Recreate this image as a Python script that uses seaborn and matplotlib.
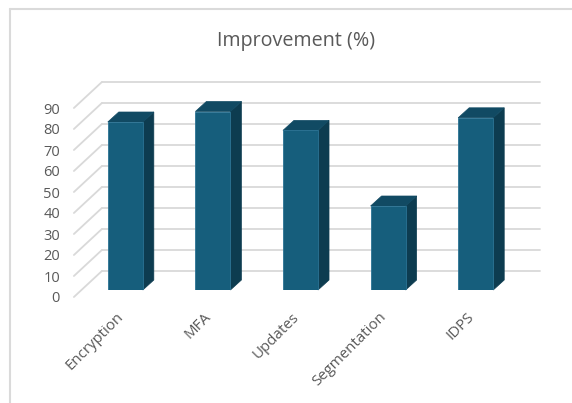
import numpy as np
import seaborn as sns
import matplotlib.pyplot as plt
from matplotlib.patches import Polygon
from matplotlib.lines import Line2D
from matplotlib.transforms import ScaledTranslation

# data
categories = ["Encryption", "MFA", "Updates", "Segmentation", "IDPS"]
improvement = [80, 85, 76, 40, 82]
yticks = [0, 10, 20, 30, 40, 50, 60, 70, 80, 90]

front_col = "#165E7C"
side_col = "#0D3C50"
top_col = "#114A63"
grid_col = "#D9D9D9"
text_col = "#595959"

sns.set_style("white")
plt.rcParams["font.family"] = ["Open Sans", "DejaVu Sans"]

W, H = 572, 403
fig = plt.figure(figsize=(W / 100, H / 100), dpi=100)
fig.patch.set_facecolor("white")

# axes = front plane of the bars (pixels measured on the reference)
left_px, right_px, zero_px, span_px = 81.5, 519.5, 290, 210
ax = fig.add_axes([left_px / W, (H - zero_px) / H,
                   (right_px - left_px) / W, span_px / H])
ax.set_xlim(-0.5, 4.5)
ax.set_ylim(0, 100)

px_x = (right_px - left_px) / 5  # px per category unit
px_y = span_px / 100             # px per value unit

def off(dx_px, dy_px):
    return dx_px / px_x, dy_px / px_y

# 3d "walls": gridlines on back wall and diagonals on the left floor/wall
bdx, bdy = off(20.4, 19)
fdx, fdy = off(-7.6, -7)
for v in yticks:
    ax.plot([-0.5 + bdx, 4.5 + bdx], [v + bdy, v + bdy], color=grid_col,
            lw=1.3, zorder=0, clip_on=False)
    ax.plot([-0.5 + fdx, -0.5 + bdx], [v + fdy, v + bdy], color=grid_col,
            lw=1.3, zorder=0, clip_on=False)

sns.barplot(x=categories, y=improvement, color=front_col, saturation=1,
            width=0.4, ax=ax, zorder=3, edgecolor="#2B7394", linewidth=0.6)

# side and top faces of each bar
ddx, ddy = off(11, 10)
for p in ax.patches:
    x0 = p.get_x()
    x1 = x0 + p.get_width()
    h = p.get_height()
    side = Polygon([(x1, 0), (x1, h), (x1 + ddx, h + ddy), (x1 + ddx, ddy)],
                   closed=True, facecolor=side_col, edgecolor=side_col,
                   lw=0.5, zorder=2, clip_on=False)
    top = Polygon([(x0, h), (x1, h), (x1 + ddx, h + ddy), (x0 + ddx, h + ddy)],
                  closed=True, facecolor=top_col, edgecolor=top_col,
                  lw=0.5, zorder=2, clip_on=False)
    ax.add_patch(side)
    ax.add_patch(top)

sns.despine(ax=ax, left=True, bottom=True)
ax.set_xlabel("")
ax.set_ylabel("")
ax.set_yticks(yticks)
ax.set_yticklabels([str(t) for t in yticks])
ax.tick_params(axis="y", length=0, pad=15.5, labelsize=10.5, labelcolor=text_col)
ax.tick_params(axis="x", length=0, pad=14, labelsize=10.8, labelcolor=text_col)
for lab in ax.get_yticklabels():
    lab.set_transform(lab.get_transform() + ScaledTranslation(0, -0.07, fig.dpi_scale_trans))
for lab in ax.get_xticklabels():
    lab.set_rotation(45)
    lab.set_ha("right")
    lab.set_rotation_mode("anchor")
    lab.set_transform(lab.get_transform() + ScaledTranslation(-0.09, 0, fig.dpi_scale_trans))

fig.text(296 / W, 1 - 41 / H, "Improvement (%)", ha="center", va="center",
         fontsize=14.2, color=text_col)

# frame of the screenshot
fig.add_artist(Line2D([10 / W, 10 / W], [0, 1 - 9 / H], color="#DADADA", lw=1.5))
fig.add_artist(Line2D([10 / W, 1], [1 - 9 / H, 1 - 9 / H], color="#DADADA", lw=1.5))

fig.savefig("out.png", dpi=100)
